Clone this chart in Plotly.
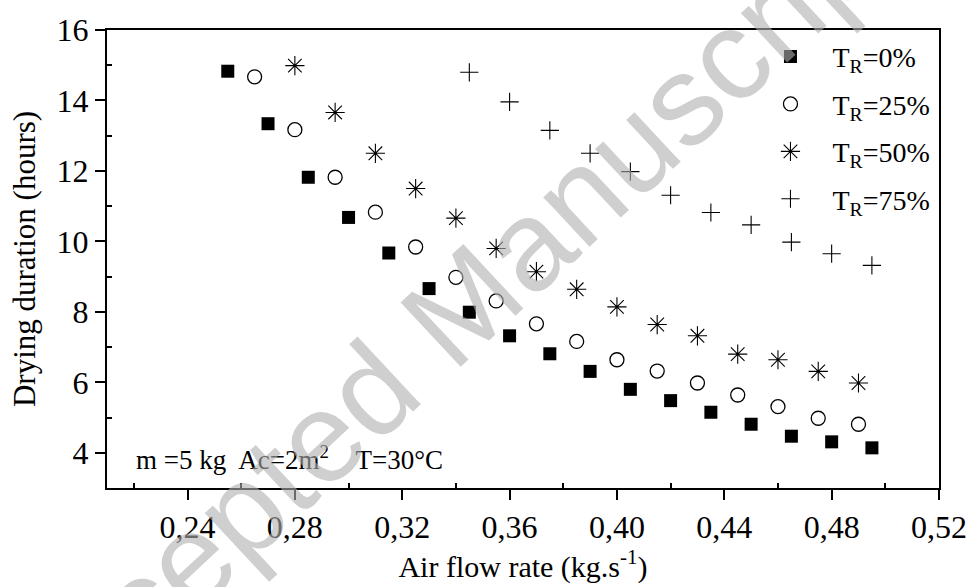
import plotly.graph_objects as go

# Air flow rate (kg/s) for each recycling ratio series
x_tr0 = [0.255, 0.270, 0.285, 0.300, 0.315, 0.330, 0.345, 0.360, 0.375,
         0.390, 0.405, 0.420, 0.435, 0.450, 0.465, 0.480, 0.495]
y_tr0 = [14.83, 13.34, 11.82, 10.68, 9.67, 8.66, 7.99, 7.32, 6.81,
         6.31, 5.80, 5.48, 5.15, 4.81, 4.47, 4.31, 4.14]

x_tr25 = [0.265, 0.280, 0.295, 0.310, 0.325, 0.340, 0.355, 0.370,
          0.385, 0.400, 0.415, 0.430, 0.445, 0.460, 0.475, 0.490]
y_tr25 = [14.67, 13.17, 11.82, 10.83, 9.84, 8.98, 8.31, 7.66,
          7.16, 6.64, 6.32, 5.98, 5.64, 5.31, 4.98, 4.81]

x_tr50 = [0.280, 0.295, 0.310, 0.325, 0.340, 0.355, 0.370, 0.385,
          0.400, 0.415, 0.430, 0.445, 0.460, 0.475, 0.490]
y_tr50 = [14.99, 13.66, 12.50, 11.50, 10.66, 9.80, 9.14, 8.64,
          8.14, 7.64, 7.32, 6.80, 6.64, 6.31, 5.98]

x_tr75 = [0.345, 0.360, 0.375, 0.390, 0.405, 0.420, 0.435, 0.450,
          0.465, 0.480, 0.495]
y_tr75 = [14.80, 13.96, 13.15, 12.50, 11.98, 11.31, 10.82, 10.47,
          9.98, 9.65, 9.32]

series_names = ["T<sub>R</sub>=0%", "T<sub>R</sub>=25%",
                "T<sub>R</sub>=50%", "T<sub>R</sub>=75%"]

x_tickvals = [0.24, 0.28, 0.32, 0.36, 0.40, 0.44, 0.48, 0.52]
x_ticktext = ["0,24", "0,28", "0,32", "0,36", "0,40", "0,44", "0,48", "0,52"]
y_tickvals = [4, 6, 8, 10, 12, 14, 16]

FONT = "Liberation Serif"
INK = "black"

fig = go.Figure()

styles = [
    dict(symbol="square", size=13, color=INK, line=dict(width=0)),
    dict(symbol="circle-open", size=14, color=INK, line=dict(width=1.3, color=INK)),
    dict(symbol="asterisk-open", size=16, color=INK, line=dict(width=1.1, color=INK)),
    dict(symbol="cross-thin-open", size=13, color=INK, line=dict(width=1.1, color=INK)),
]
data = [(x_tr0, y_tr0), (x_tr25, y_tr25), (x_tr50, y_tr50), (x_tr75, y_tr75)]

for i, ((xs, ys), name, mk) in enumerate(zip(data, series_names, styles)):
    fig.add_trace(go.Scatter(
        x=xs, y=ys, mode="markers", name=name, marker=mk,
        legendgroup=f"g{i}",
    ))

axis_common = dict(
    showline=True, linewidth=2, linecolor=INK, mirror=True,
    showgrid=False, zeroline=False,
    ticks="outside", ticklen=10, tickwidth=2, tickcolor=INK,
    tickfont=dict(family=FONT, size=32, color=INK),
)

fig.update_xaxes(
    range=[0.21, 0.52],
    tickvals=x_tickvals, ticktext=x_ticktext,
    minor=dict(ticks="inside", ticklen=5, tickwidth=2, tickcolor=INK,
               tickvals=[0.22, 0.26, 0.30, 0.34, 0.38, 0.42, 0.46, 0.50]),
    title=dict(text="Air flow rate (kg.s<sup>-1</sup>)",
               font=dict(family=FONT, size=30, color=INK), standoff=4),
    **axis_common,
)
fig.update_yaxes(
    range=[3, 16],
    tickvals=y_tickvals,
    minor=dict(ticks="inside", ticklen=5, tickwidth=2, tickcolor=INK,
               tickvals=[5, 7, 9, 11, 13, 15]),
    title=dict(text="Drying duration (hours)",
               font=dict(family=FONT, size=31, color=INK), standoff=12),
    **axis_common,
)

fig.add_annotation(
    text="m =5 kg  Ac=2m<sup>2</sup>    T=30°C",
    xref="paper", yref="paper", x=0.033, y=0.065,
    xanchor="left", yanchor="middle", showarrow=False,
    font=dict(family=FONT, size=27, color=INK),
)

# diagonal watermark across the figure
fig.add_annotation(
    text="Accepted Manuscript",
    xref="paper", yref="paper", x=0.404, y=0.361,
    xanchor="center", yanchor="middle", showarrow=False,
    textangle=-43,
    font=dict(family="Liberation Sans", size=128,
              color="rgba(175,175,175,0.6)"),
)

fig.update_layout(
    width=979, height=587,
    margin=dict(l=107, r=35, t=23, b=99),
    paper_bgcolor="white", plot_bgcolor="white",
    showlegend=True,
    legend=dict(
        x=0.771, y=0.996, xanchor="left", yanchor="top",
        bgcolor="rgba(0,0,0,0)", borderwidth=0,
        font=dict(family=FONT, size=28, color=INK),
        tracegroupgap=8, itemsizing="trace", itemwidth=74,
    ),
)

fig.write_html("out.html")
